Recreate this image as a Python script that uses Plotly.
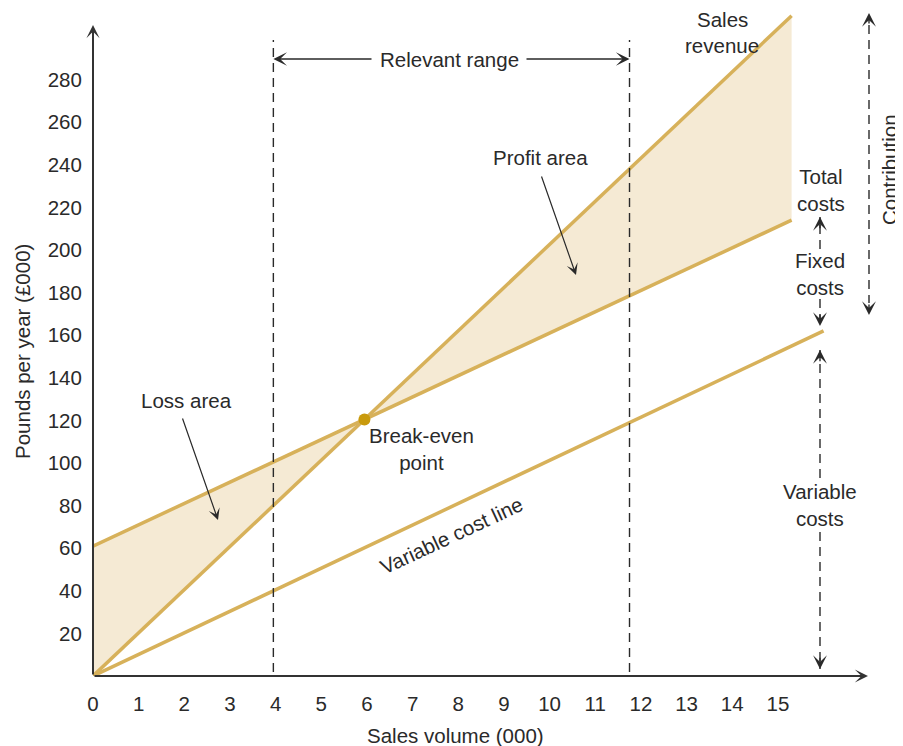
import plotly.graph_objects as go

# ---------------- data ----------------
volume_ends = [0, 15.3]            # sales volume (000) at start/end of the plotted lines
sales_revenue = [0, 310]           # £000
total_costs = [61, 214]            # £000
variable_volume = [0, 16]
variable_costs = [0, 162]          # £000
relevant_range = [3.95, 11.75]     # volume (000)
x_ticks = list(range(0, 16))
y_ticks = list(range(20, 281, 20))

# break-even point from the two lines
s_rev = (sales_revenue[1] - sales_revenue[0]) / (volume_ends[1] - volume_ends[0])
s_tc = (total_costs[1] - total_costs[0]) / (volume_ends[1] - volume_ends[0])
be_x = (total_costs[0] - sales_revenue[0]) / (s_rev - s_tc)
be_y = sales_revenue[0] + s_rev * be_x

# ---------------- styling ----------------
LINE = "#D7B15A"
FILL = "#F5EAD4"
DOT = "#C99A0C"
INK = "#2a2a2a"
FONT = "Liberation Sans"
FS = 20.5

OFF = 8                      # page body margin
W, H = 903 - OFF, 746 - OFF
ML, MR, MT, MB = 85, 0, 0, 70
pw = W - ML - MR
ph = H - MT - MB
XR = [0, pw / 45.66]
YR = [0, ph / 2.13]


def X(px):
    return XR[0] + (px - OFF - ML) / pw * (XR[1] - XR[0])


def Y(py):
    return YR[0] + (H - MB - (py - OFF)) / ph * (YR[1] - YR[0])


fig = go.Figure()

# loss area
fig.add_trace(go.Scatter(
    x=[volume_ends[0], be_x, volume_ends[0], volume_ends[0]],
    y=[total_costs[0], be_y, sales_revenue[0], total_costs[0]],
    fill="toself", fillcolor=FILL, mode="none", hoverinfo="skip", showlegend=False))
# profit area
fig.add_trace(go.Scatter(
    x=[be_x, volume_ends[1], volume_ends[1], be_x],
    y=[be_y, sales_revenue[1], total_costs[1], be_y],
    fill="toself", fillcolor=FILL, mode="none", hoverinfo="skip", showlegend=False))

for xs, ys in [(volume_ends, sales_revenue), (volume_ends, total_costs),
               (variable_volume, variable_costs)]:
    fig.add_trace(go.Scatter(x=xs, y=ys, mode="lines",
                             line=dict(color=LINE, width=3.5),
                             cliponaxis=False, hoverinfo="skip", showlegend=False))

fig.add_trace(go.Scatter(x=[be_x], y=[be_y], mode="markers",
                         marker=dict(color=DOT, size=12),
                         cliponaxis=False, hoverinfo="skip", showlegend=False))

shapes = []
DASH = dict(color=INK, width=1.4, dash="9px,6px")
# relevant range verticals
for xv in relevant_range:
    shapes.append(dict(type="line", xref="x", yref="y", x0=xv, x1=xv,
                       y0=Y(672), y1=Y(40), line=DASH))

ann = []


def text(x, y, t, size=FS, angle=0):
    ann.append(dict(x=x, y=y, xref="x", yref="y", text=t, showarrow=False,
                    font=dict(family=FONT, size=size, color=INK),
                    textangle=angle, xanchor="center", yanchor="middle",
                    align="center", borderpad=0))


def arrow(x, y, ax, ay, width=1.3, size=1.75, color=INK, head=3):
    ann.append(dict(x=x, y=y, ax=ax, ay=ay, xref="x", yref="y",
                    axref="x", ayref="y", text="", showarrow=True,
                    arrowhead=head, arrowsize=size, arrowwidth=width,
                    arrowcolor=color, standoff=0, startstandoff=0))


def dashed_arrow(xv, y_from, y_to):
    shapes.append(dict(type="line", xref="x", yref="y", x0=xv, x1=xv,
                       y0=y_from, y1=y_to, line=DASH))
    direction = 1 if y_to > y_from else -1
    arrow(xv, y_to, xv, y_to - direction * 6, width=1.4, size=1.65)


# axes with arrows
arrow(X(868), 0, 0, 0, width=2, size=1.1, color="#333333")
arrow(0, Y(25), 0, 0, width=2, size=1.1, color="#333333")

# relevant range
yrr = Y(59)
text(X(449), yrr, "Relevant range")
arrow(relevant_range[0], yrr, X(373), yrr)
arrow(relevant_range[1], yrr, X(525), yrr)

# labels
text(X(722), Y(19), "Sales")
text(X(722), Y(45), "revenue")
text(X(540), Y(157), "Profit area")
arrow(X(576), Y(275), X(541), Y(175), width=1.2, size=1.6)
text(X(186), Y(400), "Loss area")
arrow(X(218), Y(520), X(182), Y(417), width=1.2, size=1.6)
text(X(421), Y(449), "Break-even<br>point")
text(X(451), Y(535), "Variable cost line", angle=-25)
text(X(821), Y(190), "Total<br>costs")
text(X(820), Y(274), "Fixed<br>costs")
text(X(820), Y(505), "Variable<br>costs")
text(X(889), Y(170), "Contribution", angle=-90)

# dashed dimension arrows
xf = X(820)
dashed_arrow(xf, Y(249), Y(217))
dashed_arrow(xf, Y(299), Y(326))
dashed_arrow(xf, Y(478), Y(350))
dashed_arrow(xf, Y(532), Y(669))
xc = X(869)
shapes.append(dict(type="line", xref="x", yref="y", x0=xc, x1=xc,
                   y0=Y(25), y1=Y(303), line=DASH))
arrow(xc, Y(13), xc, Y(25), width=1.4, size=1.65)
arrow(xc, Y(315), xc, Y(303), width=1.4, size=1.65)

# axis titles
ann.append(dict(xref="paper", yref="paper", x=(455 - OFF - ML) / pw,
                y=(H - MB - (735 - OFF)) / ph,
                text="Sales volume (000)", showarrow=False, borderpad=0,
                font=dict(family=FONT, size=FS, color=INK),
                xanchor="center", yanchor="middle"))
ann.append(dict(xref="paper", yref="paper", x=(22 - OFF - ML) / pw,
                y=(H - MB - (352 - OFF)) / ph,
                text="Pounds per year (£000)", showarrow=False, textangle=-90,
                font=dict(family=FONT, size=FS, color=INK),
                xanchor="center", yanchor="middle"))

fig.update_layout(
    width=W, height=H,
    margin=dict(l=ML, r=MR, t=MT, b=MB, pad=0),
    paper_bgcolor="white", plot_bgcolor="white",
    showlegend=False,
    shapes=shapes, annotations=ann,
    font=dict(family=FONT, color=INK, size=FS),
    xaxis=dict(range=XR, showgrid=False, zeroline=False, showline=False,
               tickvals=x_ticks, ticktext=[str(v) for v in x_ticks],
               ticks="outside", ticklen=9, tickcolor="rgba(0,0,0,0)",
               tickfont=dict(family=FONT, size=FS, color=INK), fixedrange=True),
    yaxis=dict(range=YR, showgrid=False, zeroline=False, showline=False,
               tickvals=y_ticks, ticktext=[str(v) for v in y_ticks],
               ticks="outside", ticklen=6, tickcolor="rgba(0,0,0,0)",
               tickfont=dict(family=FONT, size=FS, color=INK), fixedrange=True),
)

fig.write_html("out.html")
